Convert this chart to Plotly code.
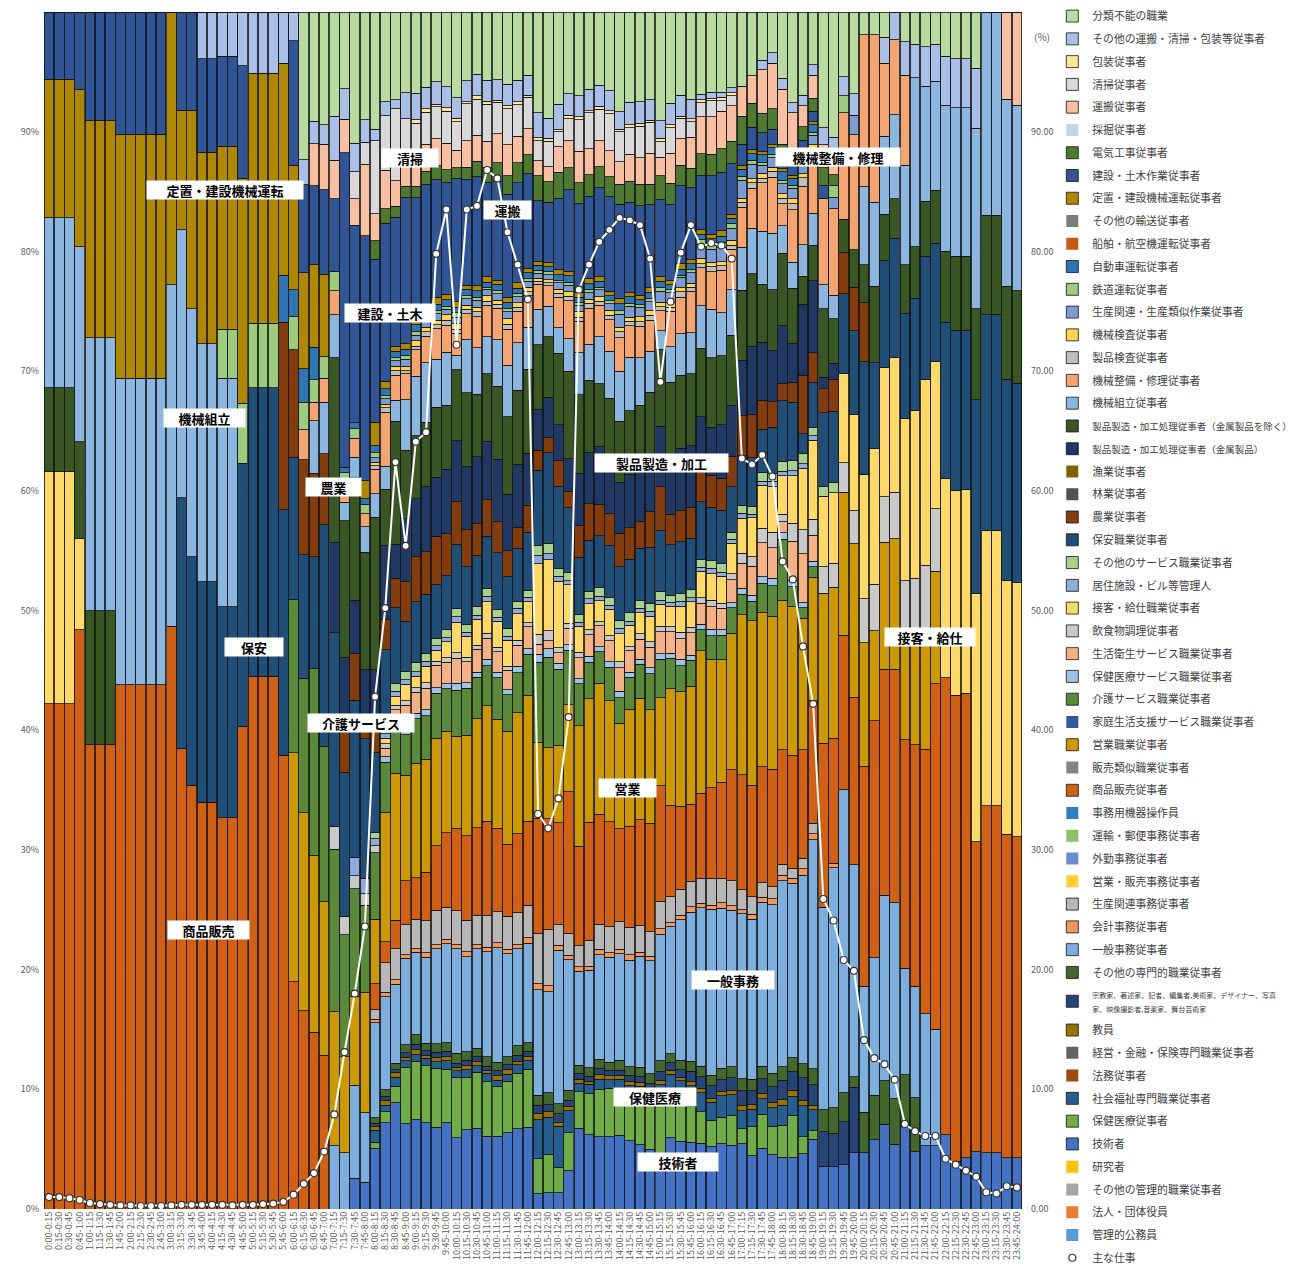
import plotly.graph_objects as go

# 15-minute slots 0:00-0:15 ... 23:45-24:00
slots = []
for i in range(96):
    h1, m1 = divmod(i * 15, 60)
    h2, m2 = divmod(i * 15 + 15, 60)
    slots.append(f"{h1}:{m1:02d}-{h2}:{m2:02d}")

Z12 = [0, 0, 0, 0, 0, 0, 0, 0, 0, 0, 0, 0]

# ---- series (bottom of the stack first) ----
kanri_koumuin = [0] * 96
houjin_yakuin = [0] * 96
sonota_kanri = [0] * 96
kenkyusha = [0] * 96
gijutsusha = (Z12 + Z12 +
    [0, 0, 0, 0, 0, 0, 2.6, 2.3, 5.2, 7.8, 9.7, 7.6] +
    [7.8, 8.0, 7.6, 8.1, 6.5, 7.5, 7.8, 6.9, 7.0, 7.4, 7.6, 7.8] +
    [1.5, 1.6, 1.6, 3.5, 7.7, 7.2, 6.9, 6.9, 6.6, 6.4, 6.1, 5.8] +
    [4.3, 7.0, 6.5, 6.5, 6.2, 5.8, 6.1, 6.3, 6.5, 5.5, 6.3, 5.3] +
    [4.7, 5.1, 5.3, 6.6, 3.7, 3.7, 3.7, 4.8, 4.7, 5.8, 7.1, 5.4] +
    [6.9, 4.8, 5.3, 5.3, 6.2, 4.0, 4.3, 4.8, 4.7, 4.7, 4.3, 4.3])
hoken_iryo = (Z12 + Z12 +
    [0, 0, 0, 0, 0, 0, 0, 0, 0.5, 1.0, 1.5, 5.0] +
    [5.1, 5.3, 5.5, 5.0, 5.5, 5.0, 5.4, 5.2, 4.8, 5.0, 5.3, 5.5] +
    [3.5, 3.8, 2.5, 3.5, 3.5, 4.0, 4.5, 4.6, 4.0, 4.3, 4.5, 4.5] +
    [5.5, 4.7, 4.0, 3.5, 3.0, 2.5, 2.5, 3.0, 1.5, 3.0, 3.5, 2.8] +
    [2.9, 4.2, 1.6, 0.8, 0, 0, 0, 0, 0, 0, 0, 0] + Z12)
shakai_fukushi = (Z12 + Z12 +
    [0, 0, 0, 0, 0, 0, 0, 0, 1.0, 0.6, 0.8, 0.6] +
    [0.6, 0.7, 0.6, 0.8, 0.6, 0.7, 0.6, 0.8, 0.6, 0.7, 0.8, 0.8] +
    [3.9, 3.7, 4.0, 2.0, 0.8, 0.9, 1.0, 0.8, 1.0, 0.9, 1.0, 1.0] +
    [1.5, 1.6, 1.8, 2.0, 1.8, 1.7, 2.0, 2.0, 1.8, 1.8, 1.6, 1.8] +
    [1.8, 1.9, 3.0, 2.0, 0, 0, 0, 0, 0, 0, 0, 0] + Z12)
houmu = [0] * 96
keiei_kinyu = [0] * 96
kyoin = (Z12 + Z12 +
    [0, 0, 0, 0, 0, 0, 0, 0, 0.3, 0.4, 0.4, 0.3] +
    [0.4, 0.3, 0.4, 0.4, 0.3, 0.4, 0.4, 0.3, 0.4, 0.4, 0.3, 0.4] +
    [0.6, 0.5, 0.4, 0.4, 0.4, 0.3, 0.4, 0.4, 0.3, 0.4, 0.4, 0.3] +
    [0.4, 0.4, 0.3, 0.4, 0.4, 0.3, 0.4, 0.4, 0.5, 0.5, 0.6, 0.5] +
    [0.5, 0.6, 0.5, 0.4, 0, 0, 0, 0, 0, 0, 0, 0] + Z12)
shukyoka = (Z12 + Z12 +
    [0, 0, 0, 0, 0, 0, 0, 0, 0.3, 0.4, 0.3, 0.4] +
    [0.5, 0.4, 0.5, 0.5, 0.4, 0.5, 0.5, 0.4, 0.5, 0.5, 0.6, 0.5] +
    [0.8, 0.7, 0.8, 0.6, 0.5, 0.5, 0.6, 0.5, 0.5, 0.6, 0.5, 0.6] +
    [0.8, 0.7, 0.8, 1.0, 1.1, 1.2, 1.1, 1.3, 1.5, 1.4, 1.5, 1.6] +
    [1.8, 1.8, 2.2, 2.0, 3.0, 2.9, 3.6, 5.6, 0, 0, 0, 0] + Z12)
sonota_senmon = (Z12 + Z12 +
    [0, 0, 0, 0, 0, 0, 0, 0, 0.5, 0.6, 0.6, 0.7] +
    [0.8, 0.7, 0.8, 0.8, 0.9, 0.8, 0.8, 0.9, 0.8, 0.8, 0.9, 0.8] +
    [1.0, 1.2, 1.0, 0.9, 0.8, 0.8, 0.9, 0.8, 0.9, 0.8, 0.9, 0.9] +
    [1.0, 0.9, 0.9, 1.0, 1.0, 1.0, 1.1, 1.1, 1.2, 1.2, 1.3, 1.3] +
    [1.2, 1.4, 1.3, 1.5, 1.9, 2.3, 2.4, 0.9, 3.4, 3.7, 3.6, 3.8] +
    [4.3, 4.5, 0, 0, 0, 0, 0, 0, 0, 0, 0, 0])
ippan_jimu = (Z12 + Z12 +
    [0, 0, 0, 0, 5.3, 4.9, 7.8, 5.9, 8.1, 8.4, 7.2, 7.7] +
    [7.2, 8.0, 8.8, 9.3, 9.5, 9.0, 9.6, 10.0, 11.0, 10.0, 9.2, 9.5] +
    [10.5, 10.0, 15.0, 12.0, 9.0, 9.5, 10.0, 10.0, 9.5, 10.0, 10.5, 11.0] +
    [11.5, 12.5, 13.5, 14.5, 15.0, 15.5, 15.0, 15.5, 16.5, 16.5, 17.0, 16.5] +
    [16.9, 17.3, 18.1, 21.7, 17.5, 21.1, 25.3, 18.1, 10.5, 11.5, 15.5, 16.4] +
    [8.9, 9.3, 11.0, 9.7, 0, 0, 0, 0, 0, 0, 0, 0])
kaikei = (Z12 + Z12 +
    [0, 0, 0, 0, 0, 0, 0, 0, 0.3, 0.4, 0.4, 0.3] +
    [0.3, 0.4, 0.4, 0.4, 0.4, 0.5, 0.4, 0.4, 0.5, 0.4, 0.4, 0.5] +
    [0.6, 0.6, 0.5, 0.4, 0.4, 0.4, 0.5, 0.4, 0.4, 0.5, 0.4, 0.4] +
    [0.5, 0.4, 0.4, 0.5, 0.4, 0.4, 0.5, 0.4, 0.4, 0.5, 0.5, 0.6] +
    [0.5, 0.5, 0.6, 0.6, 0, 0.4, 0, 0, 0, 0, 0, 0] + Z12)
seisan_jimu = (Z12 + Z12 +
    [0, 0, 0, 0, 0, 0, 0, 0, 0.8, 2.7, 2.8, 2.7] +
    [2.6, 3.0, 3.2, 3.0, 3.1, 3.0, 2.8, 3.0, 3.0, 3.2, 3.0, 3.1] +
    [5.0, 5.5, 2.0, 2.0, 2.0, 2.5, 2.4, 2.5, 2.5, 2.6, 2.5, 2.4] +
    [2.5, 2.6, 2.5, 2.5, 2.4, 2.5, 2.3, 2.5, 2.0, 1.8, 1.5, 1.2] +
    [1.0, 1.0, 1.0, 1.0, 0, 0, 0, 0, 0, 0, 0, 0] + Z12)
eigyo_hanbai_jimu = [0] * 96
gaikin_jimu = [0] * 96
unyu_yubin_jimu = [0] * 96
jimuyou_kiki = [0] * 96
shohin_hanbai = (
    [42.2, 42.2, 42.2, 48.4, 38.8, 38.8, 38.8, 43.8, 43.8, 43.8, 43.8, 43.8] +
    [48.7, 38.5, 35.4, 34.0, 34.0, 32.7, 32.7, 40.3, 44.5, 44.5, 44.5, 37.9] +
    [19.0, 16.5, 15.2, 12.8, 0, 0, 0, 0, 2.2, 1.9, 2.6, 3.9] +
    [3.6, 4.5, 6.0, 7.0, 7.5, 8.0, 8.5, 9.0, 8.0, 7.0, 7.5, 8.0] +
    [11.5, 11.0, 10.0, 13.0, 9.5, 11.5, 10.5, 10.0, 8.3, 9.5, 10.0, 10.5] +
    [10.5, 9.0, 8.0, 7.5, 8.0, 8.5, 9.0, 11.0, 11.5, 11.5, 12.0, 11.5] +
    [10.4, 11.2, 10.4, 11.6, 14.2, 11.0, 12.9, 14.3, 18.4, 19.8, 18.9, 19.5] +
    [19.1, 20.2, 22.1, 28.9, 38.2, 38.9, 38.8, 25.9, 29.0, 29.0, 27.0, 26.8])
hanbai_ruiji = [0] * 96
eigyo = (Z12 + Z12 +
    [19.1, 16.5, 15.2, 12.8, 11.2, 8.4, 7.4, 10.3, 5.5, 11.7, 13.4, 9.4] +
    [10.0, 10.5, 10.0, 9.5, 8.4, 9.5, 10.5, 11.0, 10.5, 11.0, 11.5, 12.0] +
    [7.5, 7.0, 7.5, 8.0, 11.5, 12.0, 12.5, 11.5, 9.4, 11.0, 11.5, 11.0] +
    [8.0, 11.5, 11.0, 11.5, 13.5, 12.0, 11.5, 13.5, 16.0, 17.0, 16.0, 15.0] +
    [13.6, 14.7, 12.6, 11.7, 13.0, 13.3, 11.9, 13.1, 10.3, 7.5, 10.6, 10.9] +
    [8.6, 9.0, 9.9, 9.4, 0, 0, 0, 0, 0, 0, 0, 0])
katei_seikatsu = [0] * 96
kaigo = (Z12 + Z12 +
    [12.8, 11.2, 16.0, 12.9, 13.6, 10.7, 9.1, 7.4, 5.7, 4.5, 4.1, 3.6] +
    [3.9, 4.0, 4.2, 4.0, 4.2, 4.5, 4.0, 3.8, 4.0, 3.5, 3.8, 3.9] +
    [8.0, 9.0, 7.5, 5.0, 4.0, 3.5, 3.0, 3.2, 2.3, 3.0, 3.2, 3.5] +
    [3.5, 3.0, 2.5, 2.5, 2.0, 2.2, 2.3, 2.5, 2.0, 2.0, 3.0, 3.0] +
    [5.5, 2.0, 1.0, 1.0, 0, 0, 0, 0, 0, 0, 0, 0] + Z12)
hoken_service = (Z12 + Z12 +
    [0, 0, 0, 0, 0, 0, 0, 0, 0, 0.5, 0.5, 0.6] +
    [0.5, 0.6, 0.5, 0.5, 0.6, 0.5, 0.5, 0.6, 0.5, 0.5, 0.6, 0.5] +
    [0.8, 0.8, 0.6, 0.5, 0.5, 0.6, 0.5, 0.5, 0.6, 0.5, 0.5, 0.6] +
    [0.5, 0.5, 0.6, 0.5, 0.5, 0.6, 0.5, 0.5, 0.6, 0.6, 0.7, 0.7] +
    [0.6, 0.6, 0.5, 0.5, 0, 0, 0, 0, 0, 0, 0, 0] + Z12)
seikatsu_eisei = (Z12 + Z12 +
    [0, 0, 0, 0, 0, 0, 0, 0, 0, 0.8, 1.2, 2.0] +
    [1.8, 2.0, 2.1, 2.0, 2.3, 2.0, 2.2, 2.0, 2.0, 1.9, 2.0, 2.1] +
    [1.0, 0.8, 1.0, 1.5, 2.0, 2.1, 2.0, 2.0, 2.1, 2.0, 1.9, 2.0] +
    [2.0, 2.1, 2.0, 2.2, 2.0, 2.1, 2.0, 2.3, 2.5, 3.0, 3.5, 3.0] +
    [1.0, 3.9, 4.7, 2.5, 0, 0, 0, 0, 0, 0, 0, 0] + Z12)
inshoku = (Z12 + Z12 +
    [0, 0, 0, 0, 1.9, 1.6, 1.1, 1.0, 0.6, 0.4, 0.4, 0.4] +
    [0.4, 0.5, 0.4, 0.4, 0.5, 0.4, 0.4, 0.5, 0.4, 0.4, 0.5, 0.4] +
    [1.0, 1.0, 0.5, 0.5, 0.5, 0.5, 0.4, 0.5, 0.5, 0.4, 0.5, 0.5] +
    [0.5, 0.5, 0.6, 0.5, 0.5, 0.6, 0.5, 0.6, 1.0, 1.0, 1.5, 1.5] +
    [0.7, 1.8, 2.3, 1.5, 2.3, 2.1, 2.5, 2.8, 3.7, 3.9, 3.8, 3.9] +
    [4.7, 4.9, 5.5, 5.2, 0, 0, 0, 0, 0, 0, 0, 0])
sekkyaku = (
    [19.4, 19.4, 19.4, 7.6, 0, 0, 0, 0, 0, 0, 0, 0] + Z12 +
    [0, 0, 0, 0, 0, 0, 0, 0, 0, 0.5, 0.8, 1.5] +
    [1.0, 1.5, 1.0, 1.5, 2.8, 2.0, 2.5, 3.0, 2.5, 2.5, 2.5, 2.0] +
    [7.0, 7.0, 6.5, 3.5, 2.5, 2.5, 2.0, 2.5, 2.5, 2.0, 2.0, 2.5] +
    [2.0, 2.0, 2.5, 2.5, 2.5, 2.5, 2.5, 3.0, 3.5, 4.0, 4.5, 4.5] +
    [3.5, 4.7, 5.9, 7.5, 6.1, 6.2, 7.4, 8.2, 10.4, 11.3, 10.8, 11.2] +
    [13.5, 14.0, 15.5, 12.3, 16.6, 17.1, 17.0, 20.7, 23.0, 23.0, 21.2, 21.2])
kyoju_kanri = (Z12 + Z12 +
    [0, 0, 0, 0, 0, 0, 1.5, 1.3, 0.6, 0.4, 0.5, 0.4] +
    [0.4, 0.5, 0.4, 0.4, 0.5, 0.4, 0.4, 0.5, 0.4, 0.4, 0.5, 0.4] +
    [0.8, 0.6, 0.5, 0.4, 0.4, 0.5, 0.4, 0.4, 0.5, 0.4, 0.4, 0.5] +
    [0.4, 0.4, 0.5, 0.4, 0.4, 0.5, 0.4, 0.4, 0.5, 0.4, 0.4, 0.5] +
    [0.4, 0.5, 0.4, 0.4, 0, 0, 0, 0, 0, 0, 0, 0] + Z12)
sonota_service = (Z12 + Z12 +
    [0, 0, 0, 0, 0, 0, 0, 0, 0.5, 0.6, 0.7, 0.7] +
    [0.8, 0.7, 0.7, 0.8, 0.7, 0.7, 0.8, 0.7, 0.7, 0.8, 0.7, 0.7] +
    [1.0, 1.0, 0.8, 0.7, 0.7, 0.7, 0.8, 0.7, 0.7, 0.8, 0.7, 0.7] +
    [0.8, 0.7, 0.7, 0.8, 0.7, 0.7, 0.8, 0.7, 0.8, 0.8, 0.9, 0.8] +
    [0.9, 1.0, 1.0, 0.8, 0.8, 0.9, 0, 0, 0, 0, 0, 0] + Z12)
hoan = (Z12 +
    [0, 20.9, 19.1, 18.4, 18.4, 17.6, 17.6, 22.0, 24.1, 24.1, 24.1, 20.5] +
    [11.9, 10.3, 9.6, 18.5, 16.2, 12.6, 13.2, 11.9, 6.8, 7.0, 6.9, 4.5] +
    [5.3, 5.5, 5.0, 5.0, 5.9, 5.5, 5.0, 5.0, 5.5, 5.0, 5.0, 5.5] +
    [7.5, 9.0, 8.0, 6.0, 5.5, 5.0, 5.0, 5.0, 4.8, 5.0, 5.0, 5.5] +
    [5.5, 5.0, 5.0, 5.0, 5.5, 5.0, 5.0, 4.5, 5.0, 5.0, 4.5, 4.5] +
    [5.5, 5.8, 1.9, 4.3, 6.4, 6.3, 6.7, 7.2, 9.4, 7.2, 8.9, 10.0] +
    [8.8, 9.4, 10.3, 9.9, 13.1, 13.4, 13.3, 16.2, 18.0, 18.0, 16.8, 16.7])
nogyo = (Z12 +
    [0, 0, 0, 0, 0, 0, 0, 0, 0, 0, 0, 15.7] +
    [9.0, 7.9, 7.2, 5.9, 0, 4.2, 3.9, 2.0, 3.2, 2.7, 2.7, 3.5] +
    [4.0, 4.0, 4.5, 4.0, 3.9, 3.5, 3.0, 3.5, 3.0, 2.5, 2.0, 2.5] +
    [2.0, 1.5, 2.5, 1.5, 3.0, 3.5, 3.0, 3.0, 3.0, 3.0, 2.5, 3.5] +
    [4.0, 3.0, 3.0, 3.0, 3.5, 3.0, 3.0, 3.0, 4.0, 4.5, 3.0, 2.5] +
    [1.6, 2.0, 5.6, 2.8, 2.1, 2.8, 3.4, 3.7, 4.9, 0, 0, 0] + Z12)
ringyo = [0] * 96
gyogyo = [0] * 96
kinzoku = (Z12 + Z12 +
    [0, 0, 0, 0, 7.5, 5.8, 4.5, 3.9, 3.9, 6.7, 3.1, 5.6] +
    [5.0, 6.0, 5.5, 6.0, 5.5, 6.0, 6.5, 5.5, 6.0, 5.5, 6.0, 5.0] +
    [4.0, 4.0, 3.5, 3.0, 5.0, 5.0, 5.5, 5.0, 4.5, 5.0, 5.0, 5.0] +
    [5.5, 5.5, 6.0, 6.0, 4.5, 4.5, 5.0, 5.0, 5.5, 7.0, 6.0, 5.0] +
    [5.2, 3.8, 6.8, 6.8, 1.0, 1.4, 0, 0, 0, 0, 0, 0] + Z12)
kinzoku_igai = (
    [7.0, 7.0, 7.0, 8.1, 11.2, 11.2, 11.2, 0, 0, 0, 0, 0] + Z12 +
    [0, 0, 0, 0, 15.5, 12.0, 10.3, 10.0, 13.0, 5.1, 11.2, 6.1] +
    [5.5, 6.0, 6.5, 6.0, 6.5, 7.0, 6.0, 6.5, 7.0, 7.5, 7.0, 8.0] +
    [6.5, 6.0, 7.0, 8.0, 7.5, 7.0, 6.0, 6.0, 5.5, 6.0, 6.0, 6.5] +
    [7.0, 7.5, 7.0, 7.0, 6.5, 6.5, 6.5, 7.0, 7.0, 7.5, 6.0, 6.0] +
    [6.6, 5.5, 2.7, 3.4, 5.9, 3.9, 2.8, 3.2, 3.2, 6.4, 3.9, 3.3] +
    [4.1, 4.3, 4.6, 4.4, 5.9, 6.2, 6.2, 7.6, 8.3, 8.3, 7.8, 7.7])
kikai_kumitate = (
    [14.2, 14.2, 14.2, 16.3, 22.8, 22.8, 22.8, 25.6, 25.6, 25.6, 25.6, 25.6] +
    [28.5, 22.4, 20.7, 19.9, 19.9, 19.1, 19.1, 0, 0, 0, 0, 0] +
    [0, 0, 4.5, 4.3, 3.6, 1.6, 1.7, 2.2, 2.0, 2.1, 1.9, 4.5] +
    [5.2, 5.5, 4.5, 5.0, 1.3, 5.0, 4.5, 3.5, 4.5, 5.0, 4.5, 4.0] +
    [3.5, 3.0, 2.5, 3.0, 4.0, 3.5, 4.5, 4.5, 4.5, 5.0, 4.5, 4.0] +
    [1.7, 3.5, 4.0, 4.0, 4.0, 4.5, 4.0, 4.5, 4.3, 4.7, 5.5, 5.5] +
    [2.5, 2.6, 3.0, 3.0, 2.1, 2.1, 0, 0, 6.5, 7.0, 6.5, 7.0] +
    [8.3, 14.1, 9.6, 9.1, 12.2, 12.4, 12.4, 15.1, 17.0, 17.0, 15.6, 15.5])
kikai_seibi = (Z12 + Z12 +
    [0, 2.5, 1.6, 2.0, 2.0, 1.6, 1.6, 1.1, 2.1, 4.9, 2.3, 2.3] +
    [2.3, 2.5, 2.8, 2.5, 2.0, 2.5, 3.0, 3.0, 3.0, 3.5, 3.0, 3.0] +
    [2.5, 2.0, 3.0, 3.5, 3.0, 3.5, 3.0, 3.0, 3.0, 3.0, 3.0, 3.0] +
    [1.8, 3.5, 3.5, 4.0, 3.6, 3.5, 4.0, 4.0, 4.0, 4.1, 5.0, 5.5] +
    [2.0, 5.2, 5.6, 5.4, 7.5, 7.6, 8.9, 9.8, 12.7, 14.0, 6.1, 6.3] +
    [7.5, 0, 0, 0, 0, 0, 0, 0, 0, 0, 0, 0])
seihin_kensa = (Z12 + Z12 +
    [0, 0, 0, 0, 0, 0, 0, 0, 0.3, 0.4, 0.4, 0.3] +
    [0.3, 0.4, 0.4, 0.5, 0.4, 0.4, 0.5, 0.4, 0.4, 0.5, 0.4, 0.4] +
    [0.3, 0.3, 0.4, 0.4, 0.4, 0.5, 0.4, 0.4, 0.5, 0.4, 0.4, 0.5] +
    [0.4, 0.4, 0.5, 0.4, 0.4, 0.5, 0.4, 0.4, 0.5, 0.6, 0.5, 0.6] +
    [0.5, 0.6, 0.8, 0.7, 0, 0, 0, 0, 0, 0, 0, 0] + Z12)
kikai_kensa = (Z12 + Z12 +
    [0, 0, 0, 0, 0, 0, 0, 0, 0.3, 0.3, 0.4, 0.4] +
    [0.5, 0.4, 0.4, 0.5, 0.5, 0.4, 0.4, 0.5, 0.4, 0.5, 0.4, 0.4] +
    [0.3, 0.3, 0.4, 0.4, 0.5, 0.4, 0.4, 0.5, 0.4, 0.4, 0.5, 0.4] +
    [0.4, 0.5, 0.4, 0.4, 0.5, 0.4, 0.4, 0.5, 0.4, 0.4, 0.5, 0.4] +
    [0.4, 0.5, 0.4, 0.4, 0, 0, 0, 0, 0, 0, 0, 0] + Z12)
seisan_kanren = (Z12 + Z12 +
    [0, 0, 0, 0, 0, 0, 0, 0, 0.4, 0.5, 0.5, 0.6] +
    [0.5, 0.6, 0.6, 0.5, 0.6, 0.6, 0.7, 0.6, 0.6, 0.7, 0.6, 0.6] +
    [0.5, 0.5, 0.6, 0.6, 0.6, 0.6, 0.7, 0.6, 1.2, 1.0, 0.9, 0.9] +
    [1.0, 0.9, 1.0, 1.0, 1.3, 1.2, 1.3, 1.2, 1.8, 1.5, 0.8, 0.9] +
    [0.9, 1.0, 1.0, 0.9, 0, 1.0, 0, 1.7, 0, 0, 0, 0] + Z12)
tetsudo = (Z12 +
    [0, 0, 0, 0, 0, 4.1, 4.1, 5.0, 5.4, 5.4, 5.4, 0] +
    [2.8, 2.3, 1.9, 1.8, 1.6, 1.0, 0.8, 0.8, 0.4, 0.3, 0.3, 0.3] +
    [0.3, 0.2, 0.3, 0.3, 0.4, 0.3, 0.3, 0.2, 0.3, 0.3, 0.3, 0.2] +
    [0.3, 0.3, 0.2, 0.3, 0.3, 0.3, 0.2, 0.3, 0.3, 0.3, 0.2, 0.3] +
    [0.3, 0.3, 0.2, 0.3, 0.5, 0.4, 0.5, 0.5, 0.4, 0.4, 0.3, 0.3] +
    [0.3, 0.3, 0.3, 0.3, 0, 1.0, 1.4, 0, 0, 0, 0, 0] + Z12)
jidosha = (Z12 +
    [0, 0, 0, 0, 0, 0, 0, 0, 0, 0, 0, 3.9] +
    [2.2, 2.8, 2.8, 0, 0, 0.5, 0.5, 0.5, 0.6, 0.6, 0.6, 0.6] +
    [0.6, 0.5, 0.6, 0.6, 0.5, 0.6, 0.6, 0.5, 0.6, 0.6, 0.5, 0.6] +
    [0.5, 0.5, 0.6, 0.6, 0.5, 0.6, 0.6, 0.5, 0.6, 0.6, 0.5, 0.6] +
    [0.6, 0.5, 0.6, 0.6, 0.5, 0.6, 0.6, 0.5, 0.7, 0.7, 0.8, 0.7] +
    [0.8, 0.7, 0.8, 0.7, 0, 0, 0, 0, 0, 0, 0, 0] + Z12)
senpaku = [0] * 96
sonota_yuso = [0] * 96
teichi = (
    [11.6, 11.6, 11.6, 13.1, 18.1, 18.1, 18.1, 20.4, 20.4, 20.4, 20.4, 20.4] +
    [22.8, 10.0, 16.6, 16.0, 16.0, 15.3, 15.3, 18.8, 20.9, 20.9, 20.9, 17.7] +
    [10.4, 8.0, 7.1, 6.8, 0, 0, 0, 1.5, 2.0, 0.7, 0.4, 0.5] +
    [0.5, 0.5, 0.6, 0.5, 0.5, 0.4, 0.5, 0.5, 0.4, 0.5, 0.5, 0.4] +
    [0.4, 0.4, 0.5, 0.4, 0.4, 0.5, 0.4, 0.4, 0.5, 0.4, 0.4, 0.5] +
    [0.4, 0.4, 0.5, 0.4, 0.4, 0.4, 0.5, 0.4, 0.4, 0.4, 0.3, 0.3] +
    [0.3, 0.3, 0.3, 0.3, 0, 0, 0, 0, 0, 0, 0, 0] + Z12)
kensetsu = (
    [5.6, 5.6, 5.6, 6.5, 9.1, 9.1, 9.1, 10.2, 10.2, 10.2, 10.2, 10.2] +
    [0, 8.2, 8.2, 7.8, 7.8, 7.5, 7.5, 9.4, 0, 0, 0, 0] +
    [10.4, 7.3, 6.8, 7.1, 6.1, 27.5, 16.6, 20.9, 13.9, 14.3, 11.8, 13.0] +
    [10.6, 11.5, 11.0, 10.5, 11.2, 10.0, 10.5, 9.0, 9.5, 10.0, 9.5, 9.0] +
    [6.0, 6.0, 7.0, 7.5, 8.5, 8.0, 8.5, 9.0, 8.4, 8.5, 8.5, 8.0] +
    [7.0, 7.5, 7.5, 7.0, 5.1, 5.5, 5.5, 5.0, 2.1, 2.3, 2.0, 1.5] +
    [1.0, 1.0, 0.8, 1.0, 1.1, 0, 0, 0, 0, 0, 0, 0] + Z12)
denki_koji = (Z12 + Z12 +
    [0, 0, 0, 0, 0, 0, 0, 0, 1.6, 1.3, 1.0, 1.0] +
    [1.0, 1.2, 1.3, 1.2, 1.0, 1.2, 1.5, 1.4, 1.8, 1.8, 1.9, 1.8] +
    [2.5, 2.0, 2.5, 2.0, 2.0, 2.1, 2.0, 1.9, 1.8, 2.0, 2.0, 2.0] +
    [2.2, 2.1, 2.0, 1.9, 2.1, 2.0, 2.2, 2.2, 2.8, 2.5, 2.0, 2.0] +
    [1.2, 1.2, 1.3, 1.2, 1.5, 1.0, 0, 0, 0, 0, 0, 0] + Z12)
saikutsu = [0] * 96
unpan = (Z12 + Z12 +
    [0, 0, 3.6, 3.8, 3.2, 2.9, 2.2, 6.1, 2.3, 3.5, 2.3, 2.3] +
    [2.3, 2.5, 2.5, 2.5, 1.6, 2.5, 2.5, 2.5, 2.8, 3.0, 2.5, 2.5] +
    [1.5, 1.5, 2.5, 2.5, 3.0, 2.5, 2.5, 2.5, 2.0, 2.5, 2.5, 3.0] +
    [1.7, 3.0, 2.5, 3.0, 3.5, 3.5, 3.5, 3.5, 3.0, 2.8, 4.5, 4.5] +
    [5.0, 4.0, 2.0, 2.2, 2.0, 2.0, 0, 0, 0, 0, 0, 0] +
    [0, 0, 0, 0, 0, 0, 0, 0, 0, 0, 7.3, 7.8])
seiso = (Z12 + Z12 +
    [0, 0, 0, 0, 0, 0, 2.3, 1.9, 6.2, 4.9, 6.6, 3.7] +
    [3.2, 3.0, 3.0, 3.0, 2.6, 3.5, 3.5, 3.5, 3.0, 3.5, 3.0, 3.0] +
    [2.0, 2.5, 1.5, 2.0, 3.0, 3.5, 3.0, 3.5, 2.7, 2.5, 3.0, 3.0] +
    [1.4, 2.5, 2.0, 1.5, 1.3, 1.5, 1.0, 1.0, 0, 0, 0, 0] + Z12 + Z12)
hoso = (Z12 + Z12 + Z12 +
    [0.3, 0.3, 0.2, 0.3, 0.3, 0.2, 0.3, 0.3, 0.2, 0.3, 0.3, 0.2] +
    [0.3, 0.3, 0.2, 0.3, 0.3, 0.2, 0.3, 0.3, 0.2, 0.3, 0.3, 0.2] +
    [0.3, 0.3, 0.2, 0.3, 0.3, 0.2, 0.3, 0.3, 0, 0, 0, 0] + Z12 + Z12)
sonota_unpan = (Z12 +
    [0, 0, 0, 3.9, 3.9, 3.7, 3.7, 4.5, 5.1, 5.1, 5.1, 4.3] +
    [2.4, 2.1, 1.9, 1.6, 3.7, 2.7, 2.4, 1.9, 1.0, 1.3, 0.8, 2.3] +
    [2.3, 2.0, 2.1, 2.0, 1.9, 2.0, 2.1, 2.0, 2.0, 2.1, 2.0, 1.9] +
    [2.5, 2.0, 2.5, 2.0, 2.0, 2.1, 2.0, 1.9, 1.6, 2.1, 2.0, 2.0] +
    [1.6, 2.1, 2.0, 1.9, 0.5, 0.6, 0.5, 0.5, 0, 0, 1.0, 1.0] +
    [1.0, 1.0, 1.0, 1.0, 1.5, 1.3, 1.6, 1.8, 0, 0, 2.2, 2.3] +
    [2.8, 2.8, 3.3, 3.1, 4.1, 4.1, 4.1, 5.0, 0, 0, 0, 0])
bunrui_funo = (Z12 + Z12 +
    [0, 12.3, 9.4, 9.4, 8.7, 6.7, 11.0, 9.2, 10.0, 8.1, 8.0, 7.2] +
    [7.1, 7.0, 6.5, 7.0, 7.8, 6.5, 6.0, 6.5, 6.5, 7.0, 6.5, 6.0] +
    [10.0, 10.5, 9.0, 7.5, 8.0, 7.5, 7.0, 7.5, 8.9, 8.5, 8.5, 8.5] +
    [9.9, 9.0, 8.0, 8.5, 7.8, 7.5, 7.5, 7.5, 7.4, 6.6, 5.0, 4.0] +
    [6.0, 9.0, 8.0, 5.0, 10.0, 11.0, 5.4, 7.0, 1.9, 1.9, 2.1, 0] +
    [2.5, 2.7, 2.9, 2.7, 3.7, 3.9, 3.9, 4.7, 0, 0, 0, 0])

# 主な仕事 (right axis, %)
omona_shigoto = (
    [1.0, 1.0, 0.9, 0.75, 0.5, 0.4, 0.35, 0.3, 0.3, 0.25, 0.25, 0.25] +
    [0.3, 0.35, 0.35, 0.35, 0.35, 0.35, 0.3, 0.35, 0.35, 0.4, 0.45, 0.6] +
    [1.2, 2.1, 3.0, 4.8, 7.9, 13.1, 18.0, 23.6, 42.8, 50.2, 62.4, 55.4] +
    [64.1, 64.9, 79.8, 83.5, 72.2, 83.5, 83.8, 86.8, 86.1, 81.6, 78.9, 76.0] +
    [33.0, 31.8, 34.3, 41.1, 76.8, 78.9, 80.8, 81.8, 82.8, 82.6, 82.2, 79.4] +
    [69.1, 75.8, 79.9, 82.2, 80.4, 80.7, 80.5, 79.4, 62.7, 62.2, 63.0, 61.2] +
    [54.1, 52.6, 47.0, 42.2, 25.9, 24.1, 20.8, 19.9, 14.1, 12.6, 12.1, 10.8] +
    [7.1, 6.5, 6.1, 6.1, 4.2, 3.7, 3.2, 2.7, 1.4, 1.3, 1.9, 1.8])

shukyoka_name = ("<span style='font-size:7px'>宗教家、著述家、記者、編集者,美術家、デザイナー、写真</span><br>"
                 "<span style='font-size:7px'>家、映像撮影者,音楽家、舞台芸術家</span>")

series = [
    ("管理的公務員", kanri_koumuin, "#5B9BD5"),
    ("法人・団体役員", houjin_yakuin, "#ED7D31"),
    ("その他の管理的職業従事者", sonota_kanri, "#A5A5A5"),
    ("研究者", kenkyusha, "#FFC000"),
    ("技術者", gijutsusha, "#4472C4"),
    ("保健医療従事者", hoken_iryo, "#70AD47"),
    ("社会福祉専門職業従事者", shakai_fukushi, "#255E91"),
    ("法務従事者", houmu, "#9E480E"),
    ("経営・金融・保険専門職業従事者", keiei_kinyu, "#636363"),
    ("教員", kyoin, "#997300"),
    (shukyoka_name, shukyoka, "#264478"),
    ("その他の専門的職業従事者", sonota_senmon, "#43682B"),
    ("一般事務従事者", ippan_jimu, "#7CAFDD"),
    ("会計事務従事者", kaikei, "#F1975A"),
    ("生産関連事務従事者", seisan_jimu, "#B7B7B7"),
    ("営業・販売事務従事者", eigyo_hanbai_jimu, "#FFCD33"),
    ("外勤事務従事者", gaikin_jimu, "#698ED0"),
    ("運輸・郵便事務従事者", unyu_yubin_jimu, "#8CC168"),
    ("事務用機器操作員", jimuyou_kiki, "#327DC2"),
    ("商品販売従事者", shohin_hanbai, "#D26012"),
    ("販売類似職業従事者", hanbai_ruiji, "#848484"),
    ("営業職業従事者", eigyo, "#CC9A00"),
    ("家庭生活支援サービス職業従事者", katei_seikatsu, "#335AA1"),
    ("介護サービス職業従事者", kaigo, "#5A8A39"),
    ("保健医療サービス職業従事者", hoken_service, "#9DC3E6"),
    ("生活衛生サービス職業従事者", seikatsu_eisei, "#F4B183"),
    ("飲食物調理従事者", inshoku, "#C9C9C9"),
    ("接客・給仕職業従事者", sekkyaku, "#FFD966"),
    ("居住施設・ビル等管理人", kyoju_kanri, "#8FAADC"),
    ("その他のサービス職業従事者", sonota_service, "#A9D18E"),
    ("保安職業従事者", hoan, "#1F4E79"),
    ("農業従事者", nogyo, "#843C0C"),
    ("林業従事者", ringyo, "#525252"),
    ("漁業従事者", gyogyo, "#7F6000"),
    ("<span style='font-size:9.5px'>製品製造・加工処理従事者（金属製品）</span>", kinzoku, "#203864"),
    ("<span style='font-size:9.5px'>製品製造・加工処理従事者（金属製品を除く）</span>", kinzoku_igai, "#385723"),
    ("機械組立従事者", kikai_kumitate, "#8AB6E0"),
    ("機械整備・修理従事者", kikai_seibi, "#F4A46E"),
    ("製品検査従事者", seihin_kensa, "#BFBFBF"),
    ("機械検査従事者", kikai_kensa, "#FFD54F"),
    ("生産関連・生産類似作業従事者", seisan_kanren, "#7C9CD6"),
    ("鉄道運転従事者", tetsudo, "#9BCB7C"),
    ("自動車運転従事者", jidosha, "#2E75B6"),
    ("船舶・航空機運転従事者", senpaku, "#C55A11"),
    ("その他の輸送従事者", sonota_yuso, "#7B7B7B"),
    ("定置・建設機械運転従事者", teichi, "#B08800"),
    ("建設・土木作業従事者", kensetsu, "#2F5597"),
    ("電気工事従事者", denki_koji, "#4E7A30"),
    ("採掘従事者", saikutsu, "#BDD7EE"),
    ("運搬従事者", unpan, "#F8C0A0"),
    ("清掃従事者", seiso, "#D9D9D9"),
    ("包装従事者", hoso, "#FFE699"),
    ("その他の運搬・清掃・包装等従事者", sonota_unpan, "#A9BFE8"),
    ("分類不能の職業", bunrui_funo, "#B8DBA0"),
]

bad = [nm for nm, v, c in series if len(v) != 96]
if bad or len(omona_shigoto) != 96:
    raise ValueError("length mismatch: %s" % bad)

FONT = "Noto Sans CJK JP"
n = len(series)
fig = go.Figure()

# legend: top item = last stacked series, 主な仕事 at the very bottom
for k, (nm, vals, col) in enumerate(series):
    lw = 0.8 if sum(vals) > 0 else 0
    fig.add_trace(go.Bar(
        x=slots, y=vals, name=nm, legendgroup="g%02d" % k, legendrank=n - k,
        marker=dict(color=col, line=dict(color="#111111", width=lw)),
    ))

fig.add_trace(go.Scatter(
    x=slots, y=omona_shigoto, name="主な仕事", yaxis="y2",
    mode="lines+markers", legendgroup="line", legendrank=n + 1,
    line=dict(color="white", width=2),
    marker=dict(symbol="circle", size=7, color="white",
                line=dict(color="#333333", width=1.2)),
))

# page pixels -> paper coords (plot area 44..1022 x 12..1209 on the page)
def px_x(px):
    return (px - 44) / 978.0

def px_y(py):
    return (1209 - py) / 1197.0

labels = [
    ("定置・建設機械運転", 146, 180, 154),
    ("機械組立", 163, 418, 79),
    ("保安", 224, 647, 56),
    ("介護サービス", 307, 723, 104),
    ("商品販売", 167, 940, 79),
    ("農業", 305, 487, 53),
    ("建設・土木", 390, 303, 88),
    ("清掃", 410, 148, 54),
    ("運搬", 507, 200, 45),
    ("製品製造・加工", 661, 463, 131),
    ("営業", 627, 788, 55),
    ("保健医療", 697, 1107, 80),
    ("技術者", 719, 1172, 78),
    ("一般事務", 775, 990, 80),
    ("機械整備・修理", 901, 147, 122),
    ("接客・給仕", 976, 637, 88),
]
annotations = []
for txt, x, y, w in labels:
    annotations.append(dict(
        text=txt, x=px_x(x), y=px_y(y), xref="paper", yref="paper",
        showarrow=False, bgcolor="white", width=w, height=16, borderpad=1,
        font=dict(family=FONT, size=13, color="black", weight=600),
    ))
annotations.append(dict(text="(%)", x=px_x(1052), y=px_y(27), xref="paper", yref="paper",
                        showarrow=False, font=dict(family=FONT, size=10, color="#595959")))

pct_ticks = list(range(0, 101, 10))

# the page body adds an 8px offset, so the figure is 8px smaller each way
fig.update_layout(
    width=1294, height=1259,
    margin=dict(l=36, r=280, t=4, b=58, autoexpand=False),
    paper_bgcolor="white", plot_bgcolor="white",
    barmode="stack", barnorm="percent", bargap=0.06,
    font=dict(family=FONT, color="#595959"),
    xaxis=dict(type="category", range=[-0.5, 95.5], autorange=False,
               tickangle=-90, tickmode="array",
               tickvals=slots, ticktext=slots,
               tickfont=dict(size=9, color="#595959"),
               showgrid=False, showline=False, ticks=""),
    yaxis=dict(range=[0, 100], tickmode="array", tickvals=pct_ticks,
               ticktext=["%d%%" % v for v in pct_ticks],
               tickfont=dict(size=9, color="#595959"), ticklabelstandoff=4,
               showgrid=True, gridcolor="#D9D9D9", gridwidth=1,
               zeroline=False, showline=False),
    yaxis2=dict(range=[0, 100], overlaying="y", side="right",
                tickmode="array", tickvals=pct_ticks,
                ticktext=["%.2f" % v for v in pct_ticks],
                tickfont=dict(size=9, color="#595959"), ticklabelstandoff=8,
                showgrid=False, zeroline=False, showline=False),
    legend=dict(x=1.031, y=1.0087, xanchor="left", yanchor="top",
                traceorder="grouped", tracegroupgap=3.77,
                font=dict(family=FONT, size=10.8, color="#404040"),
                bgcolor="rgba(0,0,0,0)", maxheight=2000),
    annotations=annotations,
    showlegend=True,
)

fig.write_html("out.html")
